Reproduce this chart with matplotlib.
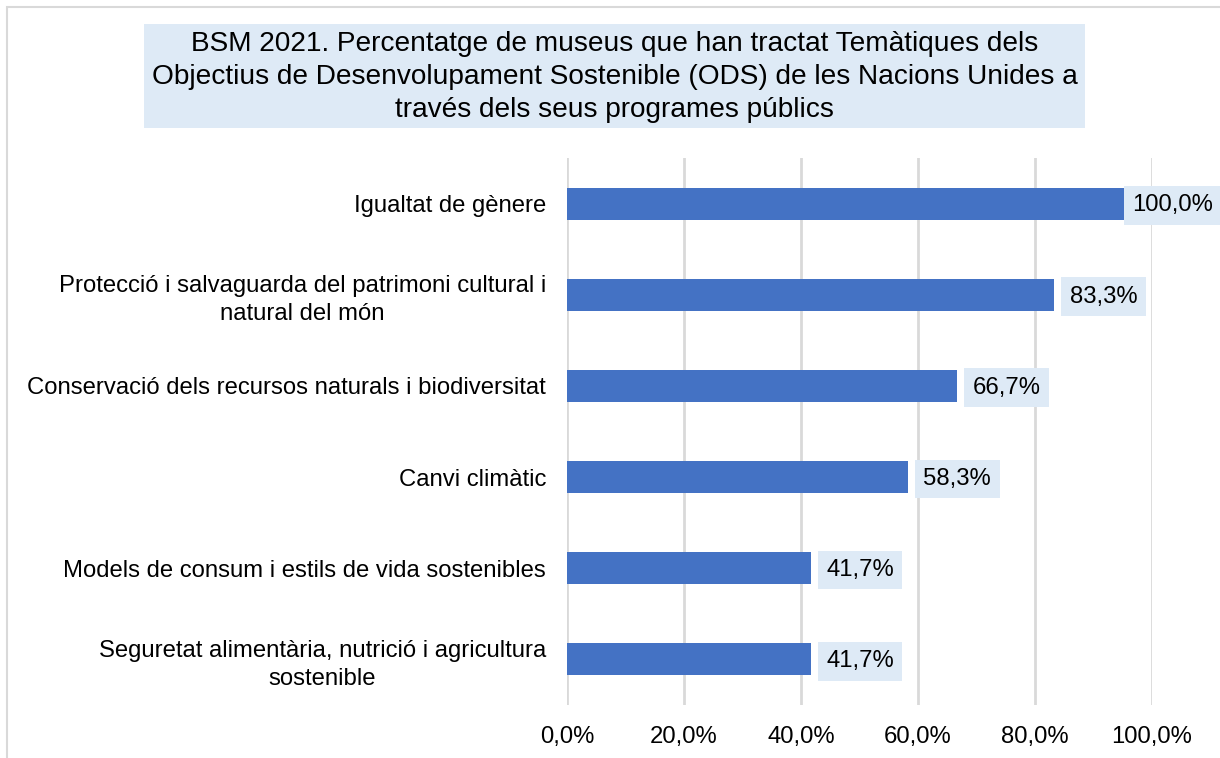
import numpy as np
import matplotlib
matplotlib.use("Agg")
import matplotlib.pyplot as plt
from matplotlib.patches import Rectangle

plt.rcParams["font.family"] = ["Liberation Sans", "DejaVu Sans"]

title = ("BSM 2021. Percentatge de museus que han tractat Temàtiques dels\n"
         "Objectius de Desenvolupament Sostenible (ODS) de les Nacions Unides a\n"
         "través dels seus programes públics")

categories = [
    "Igualtat de gènere",
    "Protecció i salvaguarda del patrimoni cultural i\nnatural del món",
    "Conservació dels recursos naturals i biodiversitat",
    "Canvi climàtic",
    "Models de consum i estils de vida sostenibles",
    "Seguretat alimentària, nutrició i agricultura\nsostenible",
]
values = [100.0, 83.3, 66.7, 58.3, 41.7, 41.7]
xticks = [0, 20, 40, 60, 80, 100]

W, H = 1220, 758
fs = 17.2
fig = plt.figure(figsize=(W / 100, H / 100), dpi=100)

# chart border (only top/left visible in the reference)
fig.patches.append(Rectangle((7 / W, -0.1), 1.2, (H - 7) / H + 0.1, transform=fig.transFigure,
                             fill=False, edgecolor="#D9D9D9", lw=1.5))

# title box
fig.patches.append(Rectangle((144 / W, 1 - 128 / H), (1085 - 144) / W, (128 - 24) / H,
                             transform=fig.transFigure, facecolor="#DEEAF6", edgecolor="none"))
fig.text(614.5 / W, 1 - 77 / H, title, ha="center", va="center", fontsize=20.2,
         linespacing=1.36, color="black")

ax = fig.add_axes([567 / W, 1 - 705 / H, (1152 - 567) / W, (705 - 158) / H])
y = np.arange(len(categories))[::-1]
ax.barh(y, values, height=0.35, color="#4472C4", zorder=2)

ax.set_xlim(0, 100)
ax.set_ylim(-0.5, len(categories) - 0.5)
ax.set_xticks(xticks)
ax.set_xticklabels([f"{t:.1f}%".replace(".", ",") for t in xticks], fontsize=fs)
ax.set_yticks(y)
ax.set_yticklabels(categories, fontsize=fs, multialignment="center", linespacing=1.35)
ax.tick_params(length=0)
ax.tick_params(axis="y", pad=15)
ax.tick_params(axis="x", pad=15)
ax.grid(axis="x", color="#D9D9D9", lw=2, zorder=0)
ax.set_axisbelow(True)
for s in ax.spines.values():
    s.set_visible(False)

px = 100 / (1152 - 567)  # data units per pixel
pad_pt = 6
for yi, v in zip(y, values):
    left = min(v + 7 * px, 100 - 28 * px)
    ax.text(left + pad_pt * 1.39 * px, yi - 0.02, f"{v:.1f}%".replace(".", ","), fontsize=fs,
            va="center", ha="left", zorder=3, clip_on=False,
            bbox=dict(facecolor="#DEEAF6", edgecolor="none", pad=pad_pt))

fig.savefig("out.png", dpi=100)
